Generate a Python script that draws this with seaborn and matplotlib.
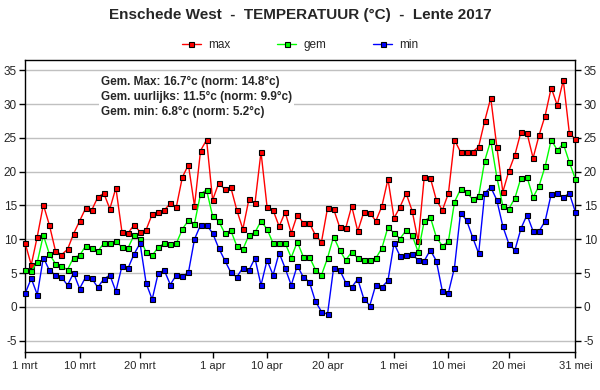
import matplotlib
matplotlib.use("Agg")
import matplotlib.pyplot as plt
import seaborn as sns
import pandas as pd
import numpy as np

# ---- data ----
start_date = "2017-03-01"
end_date = "2017-05-31"

t_max = [9.4, 6.2, 10.4, 15.1, 12.1, 8.3, 7.7, 8.5, 10.8, 12.7,
         14.6, 14.3, 16.2, 16.8, 14.5, 17.6, 11.1, 10.9, 12.1, 11.1,
         11.4, 13.7, 14.0, 14.3, 15.3, 14.8, 19.2, 21.0, 14.9, 23.1,
         24.7, 15.8, 18.3, 17.4, 17.7, 14.3, 11.5, 15.9, 15.3, 22.9,
         14.8, 14.3, 11.9, 14.0, 10.9, 13.6, 12.4, 12.4, 10.6, 9.6,
         14.6, 14.5, 11.8, 11.6, 14.9, 11.2, 14.0, 13.9, 12.7, 14.9,
         18.9, 13.1, 14.8, 16.8, 14.2, 9.7, 19.2, 19.1, 15.8, 14.3,
         16.8, 24.7, 22.9, 22.9, 22.9, 23.7, 27.5, 30.9, 23.7, 17.0,
         20.1, 22.5, 25.9, 25.7, 22.0, 25.4, 28.3, 32.4, 29.8, 33.5,
         25.7, 24.8]

t_gem = [5.5, 5.3, 6.6, 10.6, 7.8, 6.4, 6.0, 5.5, 7.3, 7.6,
         9.0, 8.7, 8.2, 9.4, 9.4, 9.7, 8.8, 8.7, 10.6, 10.1,
         8.1, 7.6, 8.8, 9.4, 9.3, 9.4, 11.5, 12.8, 12.3, 16.7,
         17.3, 13.4, 12.7, 10.9, 11.3, 9.0, 8.5, 10.6, 11.0, 12.7,
         11.5, 9.4, 9.4, 9.4, 7.3, 9.6, 7.4, 7.4, 5.5, 4.7,
         7.2, 10.4, 8.4, 6.9, 8.1, 7.2, 6.9, 7.0, 7.2, 8.7,
         11.8, 10.9, 10.1, 11.3, 10.6, 8.1, 12.7, 13.3, 10.3, 9.0,
         9.7, 15.5, 17.4, 17.0, 15.9, 16.4, 21.6, 24.6, 19.2, 14.9,
         14.5, 16.1, 19.1, 19.2, 16.2, 17.9, 20.8, 24.7, 23.2, 24.1,
         21.4, 18.9]

t_min = [2.0, 4.2, 1.8, 7.3, 5.4, 4.7, 4.4, 3.2, 5.0, 2.7,
         4.4, 4.2, 2.9, 4.1, 4.7, 2.3, 6.0, 5.7, 7.8, 9.4,
         3.5, 1.1, 5.0, 5.4, 3.3, 4.7, 4.5, 5.1, 10.0, 12.1,
         12.1, 10.9, 8.7, 6.9, 5.1, 4.4, 5.8, 5.4, 7.2, 3.2,
         6.9, 4.7, 8.0, 5.7, 3.2, 6.1, 4.4, 3.7, 0.8, -0.7,
         -1.1, 5.7, 5.5, 3.6, 2.9, 4.1, 1.2, 0.2, 3.3, 2.9,
         3.9, 9.4, 7.5, 7.6, 7.8, 6.9, 6.8, 8.4, 6.8, 2.3,
         2.1, 5.8, 13.9, 12.8, 10.3, 7.9, 16.8, 17.7, 15.8, 11.9,
         9.3, 8.4, 11.6, 13.6, 11.2, 11.2, 12.7, 16.7, 16.8, 16.2,
         16.8, 14.0]

series_names = ["max", "gem", "min"]
series_colors = ["#ff0000", "#00ff00", "#0000ff"]

tick_dates = ["2017-03-01", "2017-03-10", "2017-03-20", "2017-04-01", "2017-04-10",
              "2017-04-20", "2017-05-01", "2017-05-10", "2017-05-20", "2017-05-31"]
tick_labels = ["1 mrt", "10 mrt", "20 mrt", "1 apr", "10 apr",
               "20 apr", "1 mei", "10 mei", "20 mei", "31 mei"]
y_ticks = [-5, 0, 5, 10, 15, 20, 25, 30, 35]

title = "Enschede West  -  TEMPERATUUR (°C)  -  Lente 2017"
info_lines = ["Gem. Max: 16.7°c (norm: 14.8°c)",
              "Gem. uurlijks: 11.5°c (norm: 9.9°c)",
              "Gem. min: 6.8°c (norm: 5.2°c)"]

# ---- build frame ----
dates = pd.date_range(start_date, end_date, freq="D")
df = pd.DataFrame({"datum": dates, "max": t_max, "gem": t_gem, "min": t_min})
long = df.melt(id_vars="datum", var_name="reeks", value_name="temp")

sns.set_style("white")
plt.rcParams["font.family"] = ["Liberation Sans", "DejaVu Sans"]

fig = plt.figure(figsize=(6.0, 3.9), dpi=100)
ax = fig.add_axes([0.042, 0.097, 0.917, 0.749])

ax.yaxis.grid(True, color="#c0c0c0", linewidth=1.0, zorder=0)
ax.set_axisbelow(True)

sns.lineplot(data=long, x="datum", y="temp", hue="reeks",
             hue_order=series_names, palette=series_colors,
             marker="s", markersize=3.6, markeredgecolor="black",
             markeredgewidth=0.8, linewidth=1.0, dashes=False,
             legend=False, ax=ax, zorder=3)
for ln in ax.lines:
    ln.set_clip_on(False)

ax.set_xlim(pd.Timestamp(start_date), pd.Timestamp(end_date))
ax.set_ylim(-6.7, 36.5)
ax.set_xticks(pd.to_datetime(tick_dates))
ax.set_xticklabels(tick_labels, fontsize=8)
ax.set_yticks(y_ticks)
ax.set_yticklabels([str(v) for v in y_ticks], fontsize=8.5)
ax.set_xlabel("")
ax.set_ylabel("")
ax.tick_params(axis="both", direction="out", length=4, width=1, color="black",
               pad=2, left=True, bottom=True, right=True, labelright=True)
for s in ax.spines.values():
    s.set_color("black")
    s.set_linewidth(1.0)

# legend
from matplotlib.lines import Line2D
handles = [Line2D([0], [0], color=c, lw=1.0, marker="s", markersize=3.6,
                  markeredgecolor="black", markeredgewidth=0.8)
           for c in series_colors]
fig.legend(handles, series_names, loc="center", bbox_to_anchor=(0.5, 0.885),
           ncol=3, frameon=False, fontsize=8.5, handlelength=1.6,
           columnspacing=4.0, handletextpad=0.6)

fig.text(0.5, 0.962, title, ha="center", va="center", fontsize=11,
         fontweight="bold")

ax.text(0.138, 0.945, "\n".join(info_lines), transform=ax.transAxes,
        ha="left", va="top", fontsize=8.5, fontweight="bold",
        linespacing=1.35, zorder=5,
        bbox=dict(facecolor="white", edgecolor="none", pad=1.5))

fig.savefig("out.png", dpi=100, facecolor="white")
